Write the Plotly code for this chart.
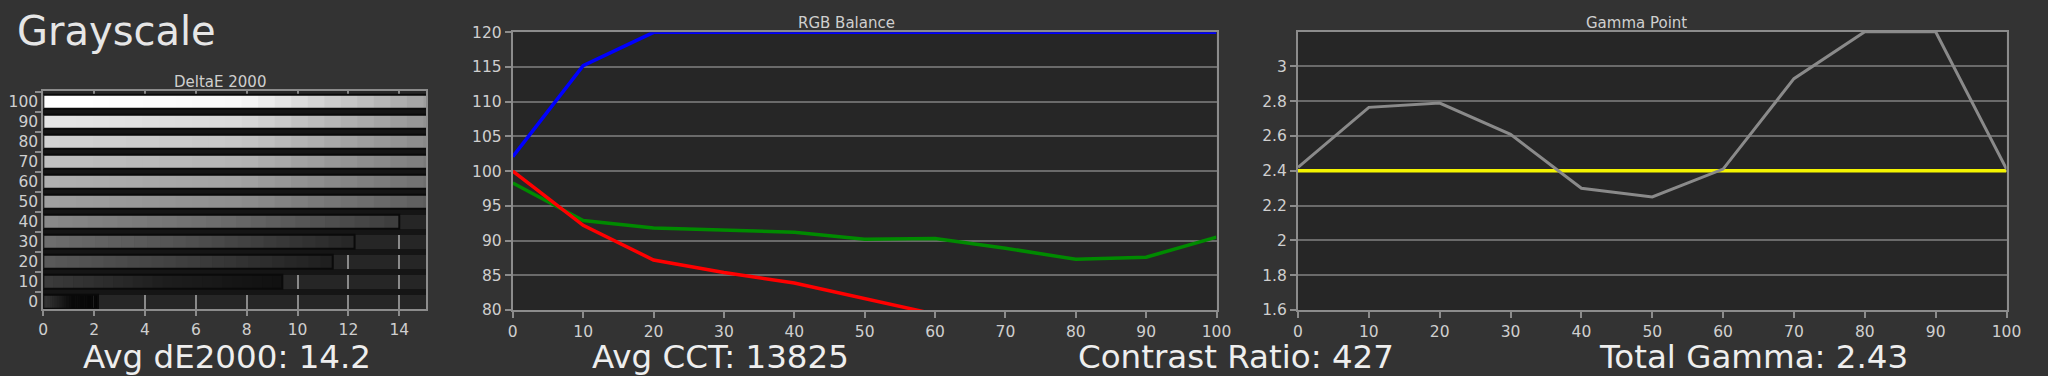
import plotly.graph_objects as go

# ---------------- data ----------------
levels = ["0", "10", "20", "30", "40", "50", "60", "70", "80", "90", "100"]
delta_e = [2.15, 9.4, 11.38, 12.24, 14.0, 15.6, 15.6, 15.6, 15.6, 15.6, 15.6]

stimulus = [0, 10, 20, 30, 40, 50, 60, 70, 80, 90, 100]
red_bal = [100.0, 92.2, 87.2, 85.4, 83.9, 81.7, 79.4, None, None, None, None]
green_bal = [98.3, 92.9, 91.8, 91.5, 91.2, 90.2, 90.3, 88.9, 87.3, 87.6, 90.5]
blue_bal = [102.1, 115.2, 120.0, 120.0, 120.0, 120.0, 120.0, 120.0, 120.0, 120.0, 120.0]

gamma_pts = [2.42, 2.765, 2.79, 2.61, 2.30, 2.25, 2.41, 2.93, 3.2, 3.2, 2.41]
gamma_target = [2.4] * 11

titles = ["DeltaE 2000", "RGB Balance", "Gamma Point"]
summary = ["Avg dE2000: 14.2", "Avg CCT: 13825", "Contrast Ratio: 427", "Total Gamma: 2.43"]

# bar shading (left, middle, right grey levels) per level
shade_left = [0x3a, 0x3c, 0x5a, 0x6e, 0x8a, 0xa0, 0xb0, 0xc0, 0xd2, 0xe6, 0xff]
shade_mid = [0x0a, 0x1e, 0x3e, 0x4e, 0x6c, 0x8e, 0xa2, 0xb4, 0xc6, 0xd8, 0xf8]
shade_right = [0x05, 0x10, 0x1e, 0x25, 0x3c, 0x5a, 0x6c, 0x78, 0x85, 0x8e, 0x99]

# ---------------- style ----------------
W, H = 2048, 376
FONT = "DejaVu Sans"
BG = "#333333"
PLOT_BG = "#262626"
GRID = "#6a6a6a"
FRAME = "#8c8c8c"
TXT = "#cfcfcf"
NSEG = 24

def px(x):
    return x / W

def py(y):
    return (H - y) / H

def grey(i, t):
    if t <= 0.5:
        a, b, u = shade_left[i], shade_mid[i], t / 0.5
    else:
        a, b, u = shade_mid[i], shade_right[i], (t - 0.5) / 0.5
    g = int(round(a + (b - a) * u))
    return "rgb(%d,%d,%d)" % (g, g, g)

fig = go.Figure()

# DeltaE bars: gradient built from segments, then outline
for j in range(NSEG):
    bases = [v * j / NSEG for v in delta_e]
    widths = [v / NSEG * 1.06 for v in delta_e]
    cols = [grey(i, (j + 0.5) / NSEG) for i in range(len(delta_e))]
    fig.add_trace(go.Bar(
        x=widths, base=bases, y=levels, orientation="h", width=0.7,
        marker=dict(color=cols, line=dict(width=0)),
        xaxis="x", yaxis="y", showlegend=False, hoverinfo="skip"))
fig.add_trace(go.Bar(
    x=delta_e, y=levels, orientation="h", width=0.7,
    marker=dict(color="rgba(0,0,0,0)", line=dict(color="#0a0a0a", width=2)),
    xaxis="x", yaxis="y", showlegend=False, hoverinfo="skip"))

# RGB balance
for vals, col in [(green_bal, "#008a00"), (red_bal, "#ff0000"), (blue_bal, "#0000ff")]:
    fig.add_trace(go.Scatter(x=stimulus, y=vals, mode="lines",
                             line=dict(color=col, width=3.5),
                             xaxis="x2", yaxis="y2", showlegend=False,
                             connectgaps=False, hoverinfo="skip"))

# Gamma
fig.add_trace(go.Scatter(x=stimulus, y=gamma_target, mode="lines",
                         line=dict(color="#f4f400", width=3.5),
                         xaxis="x3", yaxis="y3", showlegend=False, hoverinfo="skip"))
fig.add_trace(go.Scatter(x=stimulus, y=gamma_pts, mode="lines",
                         line=dict(color="#8a8a8a", width=3),
                         xaxis="x3", yaxis="y3", showlegend=False, hoverinfo="skip"))

def axis(**kw):
    d = dict(showline=True, linecolor=FRAME, linewidth=2, mirror=True,
             ticks="outside", tickcolor=FRAME, ticklen=6, tickwidth=1.5,
             tickfont=dict(family=FONT, size=15.5, color=TXT),
             zeroline=False, fixedrange=True, automargin=False)
    d.update(kw)
    return d

fig.update_layout(
    width=W, height=H,
    margin=dict(l=0, r=0, t=0, b=0, pad=0, autoexpand=False),
    paper_bgcolor=BG, plot_bgcolor=PLOT_BG,
    barmode="overlay",
    xaxis=axis(domain=[px(43.3), px(426)], anchor="y", range=[0, 15.05],
               tickvals=[0, 2, 4, 6, 8, 10, 12, 14], showgrid=True,
               gridcolor="#8a8a8a", gridwidth=1.5, ticklen=5),
    yaxis=axis(domain=[py(309), py(90.7)], anchor="x", type="category",
               categoryorder="array", categoryarray=levels,
               range=[-0.365, 10.55], tickson="boundaries",
               showgrid=True, gridcolor="#151515", gridwidth=6),
    xaxis2=axis(domain=[px(512.8), px(1216.5)], anchor="y2", range=[0, 100],
                dtick=10, showgrid=False),
    yaxis2=axis(domain=[py(310), py(32.3)], anchor="x2", range=[80, 120],
                dtick=5, showgrid=True, gridcolor=GRID, gridwidth=1.5),
    xaxis3=axis(domain=[px(1298), px(2006.5)], anchor="y3", range=[0, 100],
                dtick=10, showgrid=False),
    yaxis3=axis(domain=[py(310), py(31.7)], anchor="x3", range=[1.6, 3.2],
                tickvals=[1.6, 1.8, 2.0, 2.2, 2.4, 2.6, 2.8, 3.0], showgrid=True,
                gridcolor=GRID, gridwidth=1.5),
)

ann = []
ann.append(dict(text="Grayscale", x=px(15), y=py(31), xanchor="left", yanchor="middle",
                font=dict(family=FONT, size=40, color="#e6e6e6")))
for t, cx, cy in zip(titles, [220, 846, 1636], [82, 23, 23]):
    ann.append(dict(text=t, x=px(cx), y=py(cy), xanchor="center", yanchor="middle",
                    font=dict(family=FONT, size=15, color=TXT)))
for t, cx in zip(summary, [227, 720, 1236, 1753]):
    ann.append(dict(text=t, x=px(cx), y=py(357), xanchor="center", yanchor="middle",
                    font=dict(family=FONT, size=32.5, color="#eeeeee")))
for a in ann:
    a.update(xref="paper", yref="paper", showarrow=False)
fig.update_layout(annotations=ann)

fig.write_html("out.html", config={"displayModeBar": False},
               post_script="document.body.style.margin='0';document.body.style.background='#333333';")
